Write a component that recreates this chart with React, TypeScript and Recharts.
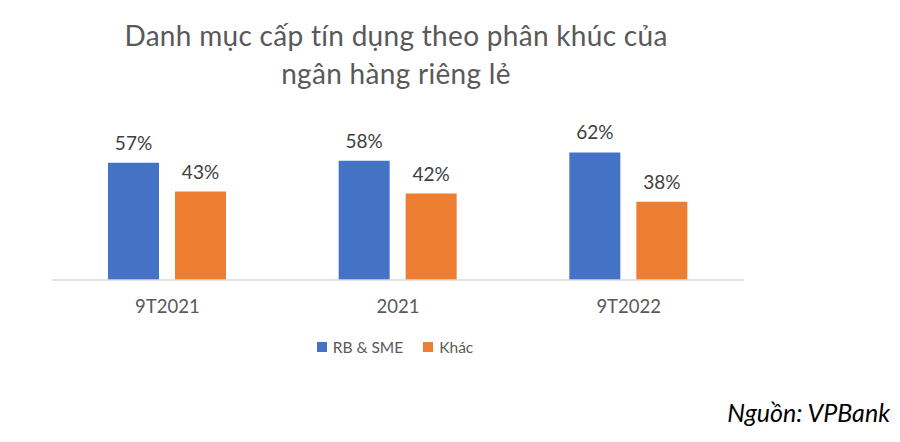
import React from "react";
import { BarChart, Bar, XAxis, YAxis, LabelList } from "recharts";

// Categories and series values (% of retail bank credit portfolio)
const periods = ["9T2021", "2021", "9T2022"];
const rbSme = [57, 58, 62];
const khac = [43, 42, 38];

const seriesNames = ["RB & SME", "Khác"];
const COLORS = ["#4472C4", "#ED7D31"];

const titleLines = ["Danh mục cấp tín dụng theo phân khúc của", "ngân hàng riêng lẻ"];
const source = "Nguồn: VPBank";

const FONT = "Lato, 'Liberation Sans', Arial, sans-serif";

const data = periods.map((p, i) => ({ name: p, rb: rbSme[i], khac: khac[i] }));

const App: React.FC = () => {
  return (
    <div
      style={{
        position: "absolute",
        left: 0,
        top: 0,
        width: 900,
        height: 442,
        background: "#fff",
        fontFamily: FONT,
        overflow: "hidden",
      }}
    >
      {/* Title */}
      <div
        style={{
          position: "absolute",
          left: 0,
          width: 792,
          top: 16,
          textAlign: "center",
          color: "#595959",
          fontSize: 28,
          letterSpacing: 0.3,
          lineHeight: "38px",
        }}
      >
        {titleLines.map((t) => (
          <div key={t}>{t}</div>
        ))}
      </div>

      <BarChart
        width={900}
        height={442}
        data={data}
        margin={{ top: 136, right: 156, bottom: 132, left: 52 }}
        barSize={51}
        barGap={16}
      >
        <XAxis
          dataKey="name"
          height={30}
          axisLine={{ stroke: "#D9D9D9", strokeWidth: 1.5 }}
          tickLine={false}
          tickMargin={14}
          tick={{ fill: "#595959", fontSize: 18.5, fontFamily: FONT }}
        />
        <YAxis hide domain={[0, 70]} />
        <Bar dataKey="rb" fill={COLORS[0]} isAnimationActive={false}>
          <LabelList
            dataKey="rb"
            position="top"
            offset={13}
            formatter={(v: number) => `${v}%`}
            style={{ fill: "#404040", fontSize: 19, fontFamily: FONT }}
          />
        </Bar>
        <Bar dataKey="khac" fill={COLORS[1]} isAnimationActive={false}>
          <LabelList
            dataKey="khac"
            position="top"
            offset={13}
            formatter={(v: number) => `${v}%`}
            style={{ fill: "#404040", fontSize: 19, fontFamily: FONT }}
          />
        </Bar>
      </BarChart>

      {/* Legend */}
      <div
        style={{
          position: "absolute",
          left: 0,
          width: 790,
          top: 338,
          display: "flex",
          justifyContent: "center",
          color: "#595959",
          fontSize: 15.5,
        }}
      >
        {seriesNames.map((n, i) => (
          <div key={n} style={{ display: "flex", alignItems: "center", margin: "0 10px" }}>
            <span
              style={{
                display: "inline-block",
                width: 10,
                height: 10,
                background: COLORS[i],
                marginRight: 6,
              }}
            />
            {n}
          </div>
        ))}
      </div>

      {/* Source */}
      <div
        style={{
          position: "absolute",
          right: 10,
          top: 397,
          fontStyle: "italic",
          fontSize: 25,
          color: "#000",
        }}
      >
        {source}
      </div>
    </div>
  );
};

export default App;
